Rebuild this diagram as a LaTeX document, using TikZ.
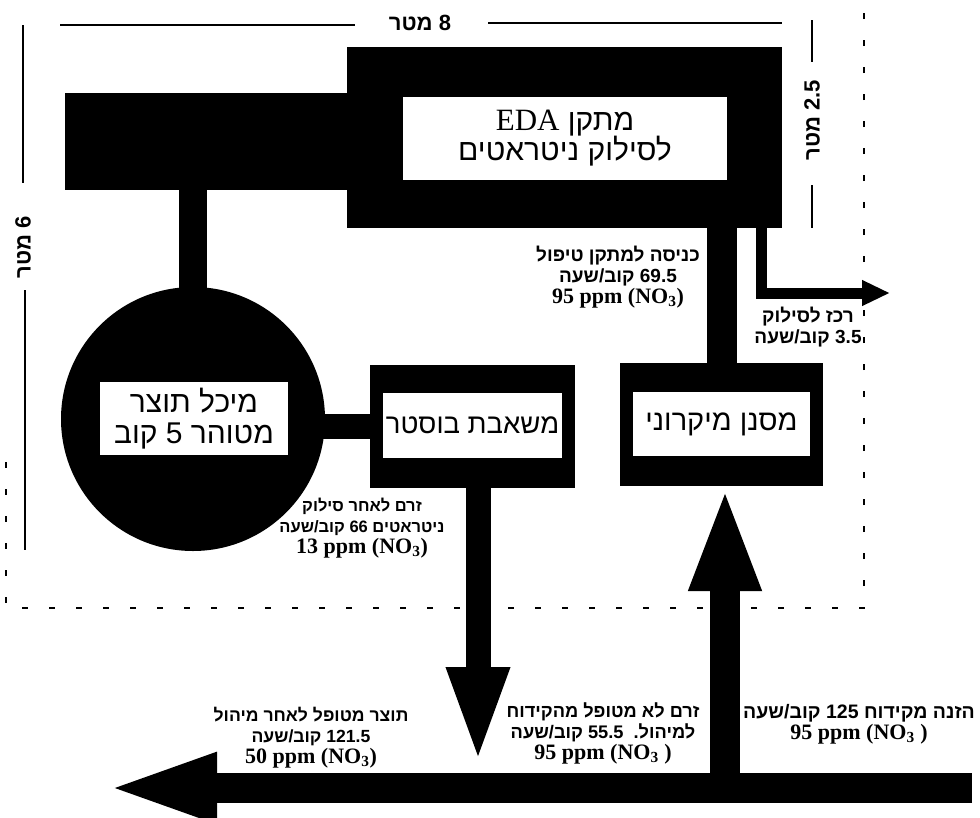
\documentclass[tikz,border=0pt]{standalone}
\usepackage{fontspec}
\setmainfont{Liberation Serif}
\newfontfamily\heb[Script=Hebrew]{Liberation Sans}
\newfontfamily\tms{Liberation Serif}
\TeXXeTstate=1
\usetikzlibrary{arrows.meta,calc}
\newcommand\hb[1]{{\heb\beginR #1\endR}}
\newcommand\ppm[1]{{\tms\fontsize{22}{21}\selectfont #1}}
\newcommand\fs[1]{\fontsize{#1}{21}\selectfont}
\begin{document}
\begin{tikzpicture}[x=1pt,y=-1pt,
  blk/.style={rectangle,fill=black,draw=none,inner sep=0pt},
  wbox/.style={rectangle,fill=white,draw=none,inner sep=0pt,align=center,
     font=\heb\fontsize{30}{33}\selectfont},
  pipe/.style={line width=#1,draw=black},
  lbl/.style={align=center,inner sep=0pt,font=\heb\bfseries\fontsize{19}{21}\selectfont},
  dim/.style={line width=1.4pt},
  dimtxt/.style={inner sep=0pt,font=\heb\bfseries\fontsize{22}{22}\selectfont},
  bnd/.style={line width=1.3pt,dash pattern=on 6pt off 21pt}]
\useasboundingbox (0,0) rectangle (980,817);
% boundary
\draw[bnd] (6,462) -- (6,608) -- (864,608) -- (864,2);
% dimensions
\node[dimtxt] (d8) at (420,23) {\hb{8 מטר}};
\coordinate (d8a) at (60,25);
\coordinate (d8b) at (355,25);
\coordinate (d8c) at (488,23);
\coordinate (d8d) at (782,23);
\draw[dim] (d8a) -- (d8b);
\draw[dim] (d8c) -- (d8d);
\node[dimtxt,rotate=90] (d6) at (23,247) {\hb{6 מטר}};
\coordinate (d6a) at (23,25);
\coordinate (d6b) at (23,183);
\coordinate (d6c) at (25,290);
\coordinate (d6d) at (25,550);
\draw[dim] (d6a) -- (d6b);
\draw[dim] (d6c) -- (d6d);
\node[dimtxt,rotate=90] (d25) at (812,120) {\hb{2.5 מטר}};
\coordinate (d25a) at (812,20);
\coordinate (d25b) at (812,62);
\coordinate (d25c) at (812,185);
\coordinate (d25d) at (812,228);
\draw[dim] (d25a) -- (d25b);
\draw[dim] (d25c) -- (d25d);
% black bodies
\node[blk,minimum width=435pt,minimum height=181pt] (eda) at (564.5,137.5) {};
\node[blk,minimum width=287pt,minimum height=97pt] (edal) at (208.5,141.5) {};
\node[circle,fill=black,inner sep=0pt,minimum size=264pt] (tank) at (193,419) {};
\node[blk,minimum width=205pt,minimum height=123pt] (boost) at (472.5,426.5) {};
\node[blk,minimum width=203pt,minimum height=123pt] (micro) at (721.5,424.5) {};
% pipes
\draw[pipe=28pt] (tank.center) -- (tank.center |- edal.center);
\draw[pipe=25pt] (tank.center |- boost.west) -- (boost.west);
\draw[pipe=30pt] (micro.north) -- (micro.north |- eda.center);
\coordinate (dout) at (478,765);
\draw[pipe=25pt,-{Triangle[width=56pt,length=98pt]}] (boost.center -| dout) -- (dout);
\coordinate (inR) at (972,788);
\coordinate (outL) at (103,788);
\draw[pipe=30pt,-{Triangle[width=62pt,length=114pt]}] (inR) -- (outL);
\coordinate (feed) at (725,788);
\draw[pipe=30pt,-{Triangle[width=65pt,length=105pt]}] (feed) -- (feed |- micro.south);
\coordinate (conc) at (890,293);
\draw[pipe=11pt,-{Triangle[width=24pt,length=28pt]}] ($(eda.south east)+(-20.5,-5)$) |- (conc);
% white boxes
\node[wbox,minimum width=324pt,minimum height=83pt] (edat) at (565,138.5)
  {\hb{מתקן {\tms\fontsize{31}{31}\selectfont EDA}}\\[-3pt]\hb{לסילוק ניטראטים}};
\node[wbox,minimum width=188pt,minimum height=73pt] (tankt) at (194,418.5)
  {\hb{מיכל תוצר}\\[-2pt]\hb{מטוהר 5 קוב}};
\node[wbox,minimum width=179pt,minimum height=65pt,font=\heb\fontsize{27.5}{30}\selectfont] (boostt) at (472.5,425.5)
  {\hb{משאבת בוסטר}};
\node[wbox,minimum width=177pt,minimum height=64pt,font=\heb\fontsize{29}{30}\selectfont] (microt) at (721.5,424)
  {\hb{מסנן מיקרוני}};
% labels
\node[lbl] (l1) at (618,277) {\hb{כניסה למתקן טיפול}\\\hb{69.5 קוב/שעה}\\\ppm{95 ppm (NO\textsubscript{3})}};
\node[lbl] (l2) at (808,327) {\hb{רכז לסילוק}\\\hb{3.5 קוב/שעה}};
\node[lbl,font=\heb\bfseries\fs{16.5}] (l3) at (362,528) {\hb{זרם לאחר סילוק}\\\hb{ניטראטים 66 קוב/שעה}\\\ppm{13 ppm (NO\textsubscript{3})}};
\node[lbl,font=\heb\bfseries\fs{17.6}] (l4) at (311,738) {\hb{תוצר מטופל לאחר מיהול}\\\hb{121.5 קוב/שעה}\\\ppm{50 ppm (NO\textsubscript{3})}};
\node[lbl,font=\heb\bfseries\fs{18.2}] (l5) at (603,733) {\hb{זרם לא מטופל מהקידוח}\\\hb{למיהול.\ \ 55.5 קוב/שעה}\\\ppm{95 ppm (NO\textsubscript{3} )}};
\node[lbl,font=\heb\bfseries\fs{19.5}] (l6) at (859,724) {\hb{הזנה מקידוח 125 קוב/שעה}\\\ppm{95 ppm (NO\textsubscript{3} )}};
\end{tikzpicture}
\end{document}
